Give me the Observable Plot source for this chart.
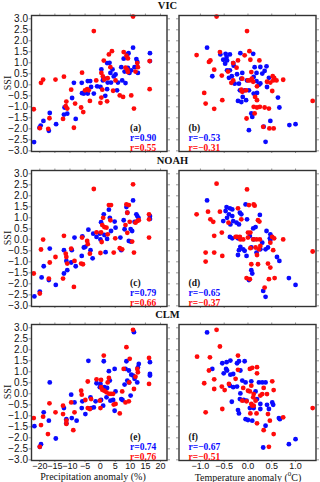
<!DOCTYPE html>
<html><head><meta charset="utf-8">
<script src="https://cdn.jsdelivr.net/npm/d3@7"></script>
<script src="https://cdn.jsdelivr.net/npm/@observablehq/plot@0.6"></script>
<style>
body{margin:0;background:#fff;}
#chart{position:relative;width:320px;height:482px;overflow:hidden;background:#fff;}
#chart svg{position:absolute;}
.t{position:absolute;font-family:'Liberation Serif','Times New Roman',serif;color:#111;white-space:nowrap;transform:translate(-50%,-50%);line-height:1;}
</style></head><body><div id="chart"></div><script>
// ---- data ----
const models = ["VIC", "NOAH", "CLM"];
const panelLetters = ["(a)", "(b)", "(c)", "(d)", "(e)", "(f)"];
const rBlue = [0.90, -0.53, 0.79, -0.65, 0.74, -0.67];
const rRed = [0.55, -0.31, 0.66, -0.37, 0.76, -0.51];
const yTicks = [-3, -2.5, -2, -1.5, -1, -0.5, 0, 0.5, 1, 1.5, 2, 2.5, 3];
const precipTicks = [-20, -15, -10, -5, 0, 5, 10, 15, 20];
const tempTicks = [-1, -0.5, 0, 0.5, 1];
const xTitles = ["Precipitation anomaly (%)", "Temperature anomaly (<sup style='font-size:7px'>0</sup>C)"];

const vicPrecipBlue = [[-21.9,-2.6],[-20.1,-1.95],[-19.7,-1.85],[-18.8,-1.64],[-17.0,-2.09],[-16.7,-1.28],[-14.6,-1.79],[-12.0,-1.35],[-11.8,-1.03],[-10.9,-1.31],[-9.3,-0.6],[-8.7,0.09],[-8.1,-1.55],[-6.1,0.09],[-6.0,-0.38],[-5.4,-0.4],[-4.1,0.17],[-3.3,0.17],[-4.1,-0.4],[-3.0,-0.1],[-2.1,-0.4],[-1.0,-0.07],[0.1,-0.1],[0.4,0.7],[0.9,0.2],[1.2,0.3],[1.7,-0.5],[2.3,-0.2],[2.5,0.1],[2.3,0.99],[3.1,1.0],[3.4,0.54],[3.6,0.1],[4.1,0.7],[4.5,0.38],[5.1,0.47],[5.6,-0.25],[5.9,0.1],[7.0,0.8],[7.3,0.2],[7.8,1.19],[8.1,0.6],[8.4,0.08],[9.0,1.38],[9.4,1.44],[9.2,0.77],[9.7,0.54],[10.3,0.66],[10.9,1.69],[11.4,0.8],[12.0,1.17],[12.3,1.04],[12.5,0.54],[16.5,1.44],[16.5,1.08]];
const vicPrecipRed = [[-22.0,-1.11],[-20.0,-1.97],[-19.6,0.09],[-18.9,0.24],[-17.2,-2.0],[-16.8,-1.52],[-14.8,0.24],[-12.3,-1.55],[-12.0,0.37],[-11.4,-0.97],[-11.2,-0.76],[-10.9,-1.08],[-9.6,-0.22],[-8.7,-1.95],[-8.3,-0.85],[-6.3,-1.03],[-6.0,0.55],[-5.6,-1.24],[-5.0,-0.25],[-4.3,-0.2],[-3.8,-0.25],[-3.4,-0.73],[-2.1,2.44],[-1.3,0.2],[0.1,-0.82],[0.4,0.54],[0.4,-0.58],[0.7,-0.22],[0.9,0.38],[1.2,1.1],[1.4,0.24],[2.3,-0.75],[2.5,0.3],[2.9,1.38],[3.4,0.8],[3.9,1.53],[4.3,-0.27],[5.1,0.2],[6.5,-0.48],[7.6,-0.55],[7.8,1.49],[8.4,0.78],[8.7,1.32],[9.2,1.2],[9.0,0.69],[9.2,0.58],[10.3,-0.48],[10.9,3.1],[11.2,-1.08],[11.7,0.6],[12.3,0.99],[12.5,0.8],[16.4,1.08],[16.4,-0.2]];
const vicTempBlue = [[-0.86,1.69],[-0.75,0.39],[-0.58,1.38],[-0.52,1.14],[-0.47,1.41],[-0.45,1.26],[-0.44,1.11],[-0.38,1.38],[-0.48,0.96],[-0.31,0.99],[-0.30,0.87],[-0.38,0.66],[-0.34,0.39],[-0.44,0.66],[-0.40,0.32],[-0.28,0.05],[-0.23,0.48],[-0.19,0.05],[-0.16,1.44],[-0.12,0.54],[-0.14,0.28],[-0.17,-0.25],[-0.21,-0.73],[-0.14,-0.78],[-0.04,-0.7],[-0.02,0.2],[0.02,-0.25],[0.11,1.41],[0.12,0.36],[0.18,0.17],[0.14,0.8],[0.18,0.54],[0.26,0.81],[0.30,0.51],[0.35,0.63],[0.39,0.84],[0.23,0.0],[0.19,-0.37],[0.07,-1.3],[0.09,-1.46],[0.02,-2.06],[0.33,-1.9],[0.37,-2.59],[0.47,-1.64],[0.63,-0.58],[0.66,-1.03],[0.87,-1.83],[1.0,-1.79],[0.44,0.32],[0.40,-0.1],[0.26,0.06],[0.12,-0.4],[-0.07,-0.25],[-0.11,-0.55]];
const vicTempRed = [[-0.66,3.1],[-0.02,2.44],[-1.08,1.35],[-0.82,1.04],[-0.79,1.11],[-0.71,0.69],[-0.59,1.49],[-0.55,0.42],[-0.42,0.6],[-0.92,-0.37],[-0.89,-0.85],[-0.71,-1.09],[-0.54,-0.7],[-0.31,0.99],[-0.21,1.11],[-0.24,0.78],[-0.07,1.34],[0.03,1.53],[0.05,1.14],[0.04,0.2],[0.07,0.58],[0.08,0.28],[-0.14,-0.22],[-0.12,-0.32],[-0.04,-0.25],[-0.12,0.28],[0.0,0.2],[0.11,0.14],[0.19,-0.07],[0.24,1.11],[0.15,-0.55],[0.19,-0.7],[0.25,-1.0],[0.12,-1.0],[0.19,-1.03],[0.35,-1.03],[0.44,-1.08],[0.14,-1.3],[-0.03,-1.53],[0.32,-1.91],[0.45,-1.98],[0.54,-1.98],[0.40,0.14],[0.47,0.1],[0.52,0.39],[0.55,0.32],[0.53,0.2],[0.60,0.2],[0.74,0.23],[0.51,-0.28],[1.36,-0.73],[-0.35,0.09],[-0.31,0.2]];

const noahPrecipBlue = [[-21.8,-2.57],[-20.0,-2.35],[-19.4,-1.71],[-18.7,-1.2],[-17.0,-1.83],[-16.7,-0.4],[-14.7,-2.05],[-12.0,-0.47],[-12.0,-1.53],[-11.2,-0.96],[-10.9,-1.38],[-9.6,-1.03],[-9.4,-0.47],[-8.5,0.1],[-8.1,-1.2],[-6.1,-0.73],[-5.9,0.16],[-5.4,-0.35],[-4.9,-0.32],[-3.9,0.46],[-3.2,-0.47],[-2.5,-0.84],[-2.3,0.28],[-1.2,0.13],[-0.1,0.28],[0.1,0.02],[0.3,0.8],[1.2,1.16],[1.4,0.22],[1.8,-0.56],[2.3,0.04],[2.9,1.37],[3.2,1.0],[3.6,0.4],[4.8,0.83],[5.1,0.55],[6.7,0.1],[7.0,-0.47],[7.8,0.89],[8.1,0.48],[8.7,1.49],[9.0,1.23],[9.5,-0.05],[10.1,-0.08],[10.1,0.49],[10.6,0.4],[10.9,1.79],[11.4,0.82],[12.0,1.16],[12.3,1.08],[12.7,1.0],[16.5,1.08],[16.5,0.95]];
const noahPrecipRed = [[-22.0,-1.53],[-20.0,-2.44],[-19.6,-0.44],[-18.9,0.01],[-17.0,-1.76],[-16.7,-1.03],[-14.8,-0.78],[-12.3,-1.76],[-12.0,0.18],[-11.4,-0.63],[-11.2,-0.78],[-10.9,-1.08],[-9.6,-0.4],[-8.7,-2.14],[-8.5,-0.96],[-6.3,-1.08],[-6.0,0.1],[-5.7,-1.11],[-4.3,-0.05],[-4.1,-0.2],[-3.4,-0.63],[-2.1,2.31],[-1.2,0.34],[0.1,-0.6],[0.3,0.34],[0.7,0.67],[0.5,-0.1],[1.0,1.0],[1.4,0.58],[2.1,0.55],[2.5,0.25],[2.9,1.58],[3.6,1.58],[3.4,0.89],[4.5,-0.58],[5.0,0.07],[6.5,-0.38],[7.3,-0.43],[8.4,0.67],[8.7,1.61],[9.0,1.23],[9.5,1.58],[9.8,0.82],[9.0,0.32],[10.6,-0.08],[10.9,2.52],[11.2,-0.58],[11.7,0.78],[12.3,0.85],[12.8,0.89],[16.2,1.16],[16.2,0.93],[16.2,0.1]];
const noahTempBlue = [[-0.86,1.79],[-0.45,1.49],[-0.47,1.31],[-0.38,1.43],[-0.33,1.38],[-0.52,0.85],[-0.44,1.0],[-0.40,1.16],[-0.33,1.08],[-0.37,0.7],[-0.31,0.85],[-0.17,1.23],[-0.14,1.16],[-0.24,0.78],[-0.19,0.7],[-0.05,1.61],[-0.02,0.93],[0.11,0.52],[0.16,0.58],[0.25,1.13],[-0.38,0.13],[-0.33,0.07],[-0.21,0.07],[-0.16,-0.32],[-0.19,-0.47],[-0.21,-0.69],[-0.10,-0.43],[-0.07,-0.5],[-0.03,-0.73],[0.07,-0.35],[0.12,0.02],[0.18,-0.58],[0.26,-0.43],[0.30,-0.13],[0.37,-0.43],[0.39,0.4],[0.46,0.07],[0.42,-0.35],[0.47,0.25],[0.47,-0.01],[0.61,-0.78],[0.66,-0.96],[0.07,-1.38],[0.09,-1.53],[0.02,-1.83],[0.32,-2.32],[0.37,-2.59],[0.86,-1.74],[1.0,-2.05],[0.04,0.17]];
const noahTempRed = [[-0.66,2.55],[-0.02,2.29],[-1.08,1.16],[-0.84,1.28],[-0.79,0.93],[-0.73,0.82],[-0.59,1.28],[-0.55,0.33],[-0.71,0.18],[-0.89,-0.58],[-0.89,-0.99],[-0.71,-0.58],[-0.54,-0.73],[-0.41,0.78],[-0.21,1.43],[0.02,1.58],[0.12,1.61],[0.14,1.55],[0.21,0.89],[0.24,0.83],[-0.14,0.93],[-0.26,0.13],[-0.23,0.13],[-0.17,0.13],[-0.16,0.02],[-0.10,0.02],[0.0,0.33],[0.05,0.33],[0.0,0.1],[0.18,0.02],[0.25,0.02],[0.05,-0.38],[0.16,-0.35],[0.23,-0.43],[0.19,-0.69],[0.26,-0.28],[0.07,-1.11],[0.21,-1.11],[0.42,-1.08],[0.47,-1.26],[-0.03,-1.74],[0.04,-1.79],[0.35,-2.17],[0.44,-1.79],[0.56,-1.74],[0.51,0.13],[0.55,0.07],[0.47,-0.13],[0.74,0.02],[0.53,-0.47],[1.36,-0.53],[0.11,0.02]];

const clmPrecipBlue = [[-21.8,-1.47],[-20.0,-2.41],[-19.6,-2.29],[-18.7,-0.84],[-17.0,-1.22],[-16.7,0.52],[-14.7,-2.03],[-12.0,-0.65],[-11.2,-1.15],[-11.2,-1.34],[-9.6,-0.04],[-9.4,-1.1],[-8.5,-0.39],[-7.8,-1.22],[-6.1,-0.65],[-5.9,-0.34],[-4.9,-0.92],[-3.9,1.5],[-3.2,-0.16],[-3.0,-0.65],[-2.1,-0.62],[-1.5,-0.34],[-1.2,0.48],[-0.1,0.3],[0.1,0.45],[0.3,-0.28],[1.0,-0.54],[1.2,1.48],[1.4,0.3],[2.1,-0.16],[2.3,0.27],[2.9,1.03],[3.2,0.6],[3.4,-0.31],[4.3,-0.28],[4.8,1.13],[5.1,0.11],[4.8,-0.77],[7.0,-0.24],[7.4,-0.28],[8.1,0.42],[8.4,1.13],[8.7,1.48],[9.0,0.6],[9.5,1.06],[9.6,0.52],[10.1,-0.08],[10.3,0.87],[10.9,0.83],[11.2,2.8],[11.4,0.68],[12.3,0.52],[12.5,1.2],[12.8,1.36],[16.5,1.44],[16.5,0.9],[16.5,0.83]];
const clmPrecipRed = [[-22.0,-1.1],[-20.0,-2.41],[-19.6,-1.42],[-18.9,-1.04],[-17.3,-1.83],[-16.8,-0.43],[-14.8,-0.84],[-12.3,-0.54],[-12.3,-0.92],[-11.2,-1.22],[-11.2,-1.37],[-9.6,-0.39],[-8.9,-1.65],[-8.5,-0.84],[-6.3,0.14],[-6.1,-0.04],[-4.9,-0.28],[-4.1,0.56],[-4.1,-0.65],[-3.4,-0.69],[-3.0,-0.24],[-1.2,0.66],[-0.1,-0.31],[0.1,-0.65],[0.3,0.63],[0.3,0.3],[0.7,0.18],[1.2,1.74],[1.4,0.14],[2.1,0.07],[2.5,0.52],[2.9,0.72],[3.0,0.0],[3.6,0.0],[4.3,0.0],[5.1,-0.46],[4.5,-0.49],[6.5,-0.89],[7.3,0.11],[7.8,1.13],[8.4,-0.39],[8.7,2.12],[9.5,-0.34],[9.8,1.59],[9.6,0.52],[10.9,2.91],[11.2,0.22],[11.7,0.78],[12.3,1.13],[12.5,0.98],[16.2,1.63],[16.2,0.45]];
const clmTempBlue = [[-0.86,2.79],[-0.75,1.13],[-0.54,1.39],[-0.45,1.44],[-0.37,1.51],[-0.46,1.13],[-0.44,1.06],[-0.51,0.93],[-0.31,0.9],[-0.37,0.87],[-0.23,1.39],[-0.19,1.48],[-0.07,1.48],[-0.16,1.06],[-0.12,0.6],[-0.05,0.52],[-0.38,0.37],[-0.31,0.3],[-0.23,0.33],[-0.16,0.02],[-0.17,-0.24],[-0.34,-0.36],[-0.21,-0.74],[-0.19,-0.89],[-0.09,-0.28],[-0.03,-0.31],[0.04,-0.65],[-0.05,-1.15],[0.0,-1.19],[0.09,-1.22],[0.07,0.57],[0.23,0.52],[0.30,0.52],[0.37,0.52],[0.16,0.11],[0.19,-0.24],[0.26,-0.46],[0.26,-0.69],[0.40,-0.5],[0.44,-0.69],[0.51,-0.39],[0.53,-0.5],[0.65,-1.1],[0.67,-1.15],[0.37,-1.45],[0.32,-2.44],[0.86,-2.29],[1.0,-2.06],[0.12,-0.65]];
const clmTempRed = [[-0.66,2.91],[-0.59,2.15],[-1.07,1.69],[-0.80,1.66],[-0.82,1.06],[-0.71,0.66],[-0.92,0.48],[-0.71,0.22],[-0.89,-0.84],[-0.54,-0.69],[-0.55,0.33],[-0.49,0.17],[-0.40,0.45],[-0.21,1.74],[-0.21,1.09],[-0.26,0.68],[-0.10,0.27],[-0.12,-0.31],[-0.03,-0.34],[0.04,1.13],[0.09,1.18],[0.19,1.21],[0.19,0.93],[0.07,0.37],[0.04,0.11],[0.0,0.14],[0.12,-0.01],[0.11,-0.16],[0.07,-0.46],[0.12,-0.54],[0.09,-0.54],[0.16,-0.31],[0.18,-0.89],[0.19,-1.34],[0.05,-0.89],[0.30,-0.01],[0.33,0.27],[0.40,-0.01],[0.51,0.57],[0.54,0.17],[0.42,-0.92],[0.46,-1.22],[0.74,-1.07],[0.33,-1.65],[0.54,-1.83],[0.44,-2.41],[1.36,-0.65],[0.26,-0.08]];

// ---- layout ----
const BLUE = "#0a0aff", RED = "#ff0a0a";
const yDomain = [-3.03, 3.15];
const precipDomain = [-22.75, 22.15];
const tempDomain = [-1.45, 1.43];
const frameTops = [15, 169.7, 324];
const FH = 136;
const chart = document.getElementById("chart");

const panels = [
  [vicPrecipBlue, vicPrecipRed], [vicTempBlue, vicTempRed],
  [noahPrecipBlue, noahPrecipRed], [noahTempBlue, noahTempRed],
  [clmPrecipBlue, clmPrecipRed], [clmTempBlue, clmTempRed]
];

const f1 = d3.format(".1f");
const f2 = d3.format(".2f");
const blank = () => "";

panels.forEach(([blue, red], i) => {
  const row = Math.floor(i / 2), col = i % 2;
  const left = col === 0, bottom = row === 2;
  const mt = 5, mb = bottom ? 14 : 5;
  const ml = left ? 31 : 8.5, mr = left ? 4 : 4.5;
  const fw = left ? 135.5 : 137;
  const xTicks = left ? precipTicks : tempTicks;
  const xFmt = left ? d3.format("d") : f1;
  const textDx = left ? 98.5 : 9.5;
  const svg = Plot.plot({
    width: ml + fw + mr, height: mt + FH + mb,
    marginTop: mt, marginBottom: mb, marginLeft: ml, marginRight: mr,
    style: {background: "transparent", fontFamily: "'Liberation Sans', Arial, sans-serif", fontSize: "10px", color: "#111", overflow: "visible"},
    x: {domain: left ? precipDomain : tempDomain},
    y: {domain: yDomain},
    marks: [
      Plot.axisY(yTicks, {anchor: "left", tickSize: 2.5, tickPadding: 1, stroke: "#999", tickFormat: left ? f1 : blank, label: null}),
      Plot.axisY(yTicks, {anchor: "right", tickSize: 2.5, stroke: "#999", tickFormat: blank, label: null}),
      Plot.axisX(xTicks, {anchor: "top", tickSize: 2.5, stroke: "#999", tickFormat: blank, label: null}),
      Plot.axisX(xTicks, {anchor: "bottom", tickSize: 2, tickPadding: 0, stroke: "#999", fontSize: 9, tickFormat: bottom ? xFmt : blank, label: null}),
      Plot.dot(blue, {x: d => d[0], y: d => d[1], r: 2.4, fill: BLUE, stroke: "none"}),
      Plot.dot(red, {x: d => d[0], y: d => d[1], r: 2.4, fill: RED, stroke: "none"}),
      Plot.frame({stroke: "#333", strokeWidth: 1.4}),
      Plot.text([panelLetters[i]], {text: d => d, frameAnchor: "bottom-left", dx: textDx, dy: -21, lineAnchor: "bottom", textAnchor: "start", fill: "#111", fontFamily: "'Liberation Serif', 'Times New Roman', serif", fontWeight: "bold", fontSize: 9.5}),
      Plot.text([rBlue[i]], {text: d => "r=" + f2(d), frameAnchor: "bottom-left", dx: textDx, dy: -11, lineAnchor: "bottom", textAnchor: "start", fill: BLUE, fontFamily: "'Liberation Serif', 'Times New Roman', serif", fontWeight: "bold", fontSize: 9.5}),
      Plot.text([rRed[i]], {text: d => "r=" + f2(d), frameAnchor: "bottom-left", dx: textDx, dy: -1, lineAnchor: "bottom", textAnchor: "start", fill: RED, fontFamily: "'Liberation Serif', 'Times New Roman', serif", fontWeight: "bold", fontSize: 9.5})
    ]
  });
  svg.style.left = (left ? 0 : 170) + "px";
  svg.style.top = (frameTops[row] - mt) + "px";
  chart.appendChild(svg);
});

function addText(html, x, y, css) {
  const d = document.createElement("div");
  d.className = "t";
  d.innerHTML = html;
  d.style.left = x + "px";
  d.style.top = y + "px";
  Object.assign(d.style, css || {});
  chart.appendChild(d);
}
const titleX = [167.5, 172.5, 167.5];
const titleY = [6, 160.5, 315];
models.forEach((m, r) => addText(m, titleX[r], titleY[r], {fontWeight: "bold", fontSize: "10.5px"}));
frameTops.forEach(t => addText("SSI", 7.5, t + FH / 2, {fontSize: "10px", transform: "translate(-50%,-50%) rotate(-90deg)"}));
addText(xTitles[0], 93, 476.5, {fontSize: "10px"});
addText(xTitles[1], 248, 476.5, {fontSize: "10px"});
</script></body></html>
